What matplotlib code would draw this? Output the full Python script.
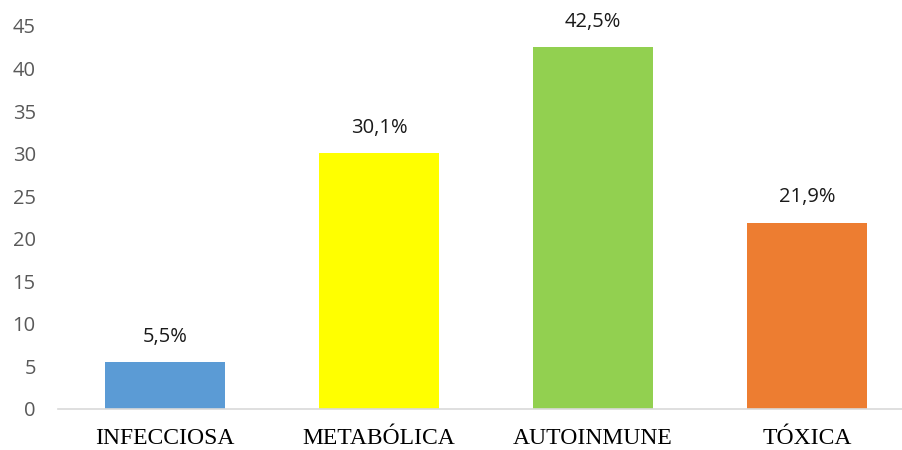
import matplotlib.pyplot as plt
import numpy as np

# Data
categories = ['INFECCIOSA', 'METABÓLICA', 'AUTOINMUNE', 'TÓXICA']
values = [5.5, 30.1, 42.5, 21.9]
labels = ['5,5%', '30,1%', '42,5%', '21,9%']
colors = ['#5b9bd5', '#ffff00', '#92d050', '#ed7d31']
yticks = [0, 5, 10, 15, 20, 25, 30, 35, 40, 45]


def main():
    fig = plt.figure(figsize=(9.02, 4.5), dpi=100)
    ax = fig.add_axes([58 / 902, 41 / 450, 856 / 902, 383 / 450])

    x = np.arange(len(categories))
    ax.bar(x, values, width=0.56, color=colors, zorder=2)

    for xi, v, lab in zip(x, values, labels):
        ax.annotate(lab, (xi, v), xytext=(0, 11), textcoords='offset points',
                    ha='center', va='bottom', fontsize=14.5,
                    family='Open Sans', color='#1a1a1a')

    ax.set_xlim(-0.5, len(categories) - 0.5)
    ax.set_ylim(0, 45)
    ax.set_yticks(yticks)
    ax.set_yticklabels([str(t) for t in yticks], family='Open Sans',
                       fontsize=14.5, color='#595959')
    ax.set_xticks(x)
    ax.set_xticklabels(categories, family='Liberation Serif', fontsize=17,
                       color='black')

    for s in ['top', 'right', 'left']:
        ax.spines[s].set_visible(False)
    ax.spines['bottom'].set_color('#d9d9d9')
    ax.spines['bottom'].set_linewidth(1.2)
    ax.tick_params(axis='both', length=0)
    ax.tick_params(axis='y', pad=16)
    ax.tick_params(axis='x', pad=14)

    plt.savefig('out.png', dpi=100)


if __name__ == '__main__':
    main()
